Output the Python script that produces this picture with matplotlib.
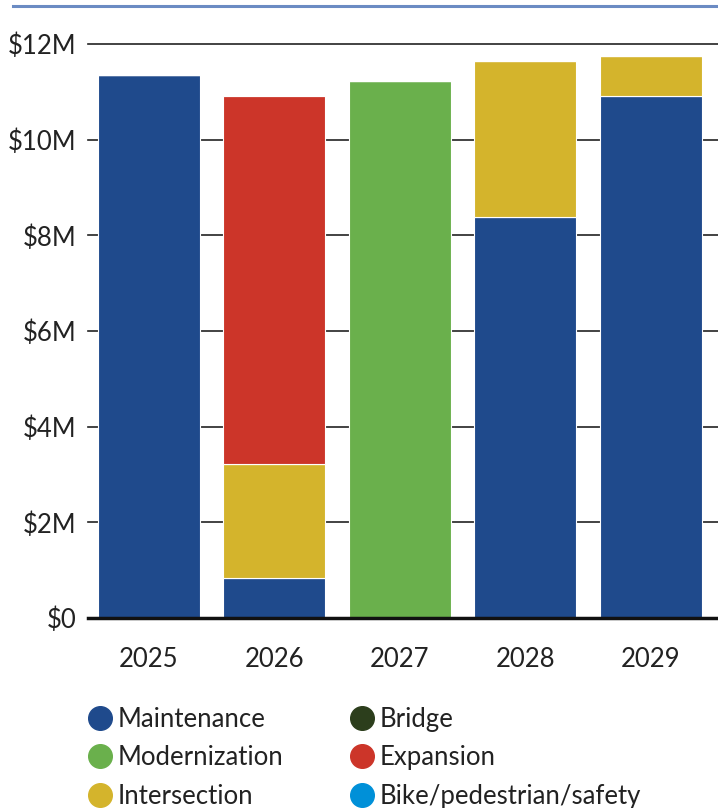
import matplotlib
matplotlib.use("Agg")
import matplotlib.pyplot as plt
from matplotlib.lines import Line2D
import numpy as np

years = ["2025", "2026", "2027", "2028", "2029"]
categories = ["Maintenance", "Modernization", "Intersection", "Bridge", "Expansion", "Bike/pedestrian/safety"]
colors = ["#1f4a8c", "#6ab04c", "#d4b42c", "#2c3e1c", "#cc3529", "#0090d8"]
# values in $M
maintenance = [11.35, 0.84, 0.0, 8.38, 10.91]
modernization = [0.0, 0.0, 11.23, 0.0, 0.0]
intersection = [0.0, 2.38, 0.0, 3.27, 0.84]
bridge = [0.0, 0.0, 0.0, 0.0, 0.0]
expansion = [0.0, 7.69, 0.0, 0.0, 0.0]
bike = [0.0, 0.0, 0.0, 0.0, 0.0]
yticks = [0, 2, 4, 6, 8, 10, 12]
ytick_labels = ["$0", "$2M", "$4M", "$6M", "$8M", "$10M", "$12M"]

plt.rcParams['font.family'] = ['Lato', 'DejaVu Sans']

W, H = 718, 808
fig = plt.figure(figsize=(W / 100, H / 100), dpi=100)
ax = fig.add_axes([88 / W, 1 - 618 / H, (718 - 88) / W, (618 - 44) / H])

series = [maintenance, modernization, intersection, bridge, expansion, bike]
x = np.arange(len(years))
bottom = np.zeros(len(years))
for vals, col in zip(series, colors):
    v = np.array(vals)
    ax.bar(x, v, bottom=bottom, width=0.815, color=col, edgecolor="white", linewidth=0.8, zorder=3)
    bottom += v

ax.set_xlim(-0.486, 4.537)
ax.set_ylim(0, 12)
ax.set_yticks(yticks)
ax.set_yticklabels(ytick_labels)
ax.set_xticks(x)
ax.set_xticklabels(years)
for y in yticks[1:]:
    ax.axhline(y, color="#222222", linewidth=1.2, zorder=1, clip_on=False)
ax.axhline(0, color="#111111", linewidth=2.5, zorder=4, clip_on=False)
for s in ax.spines.values():
    s.set_visible(False)
ax.tick_params(axis="y", length=0, pad=8, labelsize=18.5, labelcolor="#222222")
ax.tick_params(axis="x", length=0, pad=21, labelsize=18.5, labelcolor="#222222")

# top rule
fig.add_artist(Line2D([13 / W, 1], [1 - 5.5 / H, 1 - 5.5 / H], color="#6b8bc3", linewidth=2.2))

handles = [Line2D([], [], marker="o", linestyle="none", markersize=17, markerfacecolor=c,
                  markeredgecolor=c) for c in colors]
fig.legend(handles, categories, ncol=2, loc="upper left", bbox_to_anchor=(83 / W, 1 - 707 / H),
           frameon=False, fontsize=18.5, handletextpad=0.05, labelspacing=0.52, columnspacing=2.4,
           handlelength=1.3, borderaxespad=0, borderpad=0, labelcolor="#222222")

fig.savefig("out.png", dpi=100)
